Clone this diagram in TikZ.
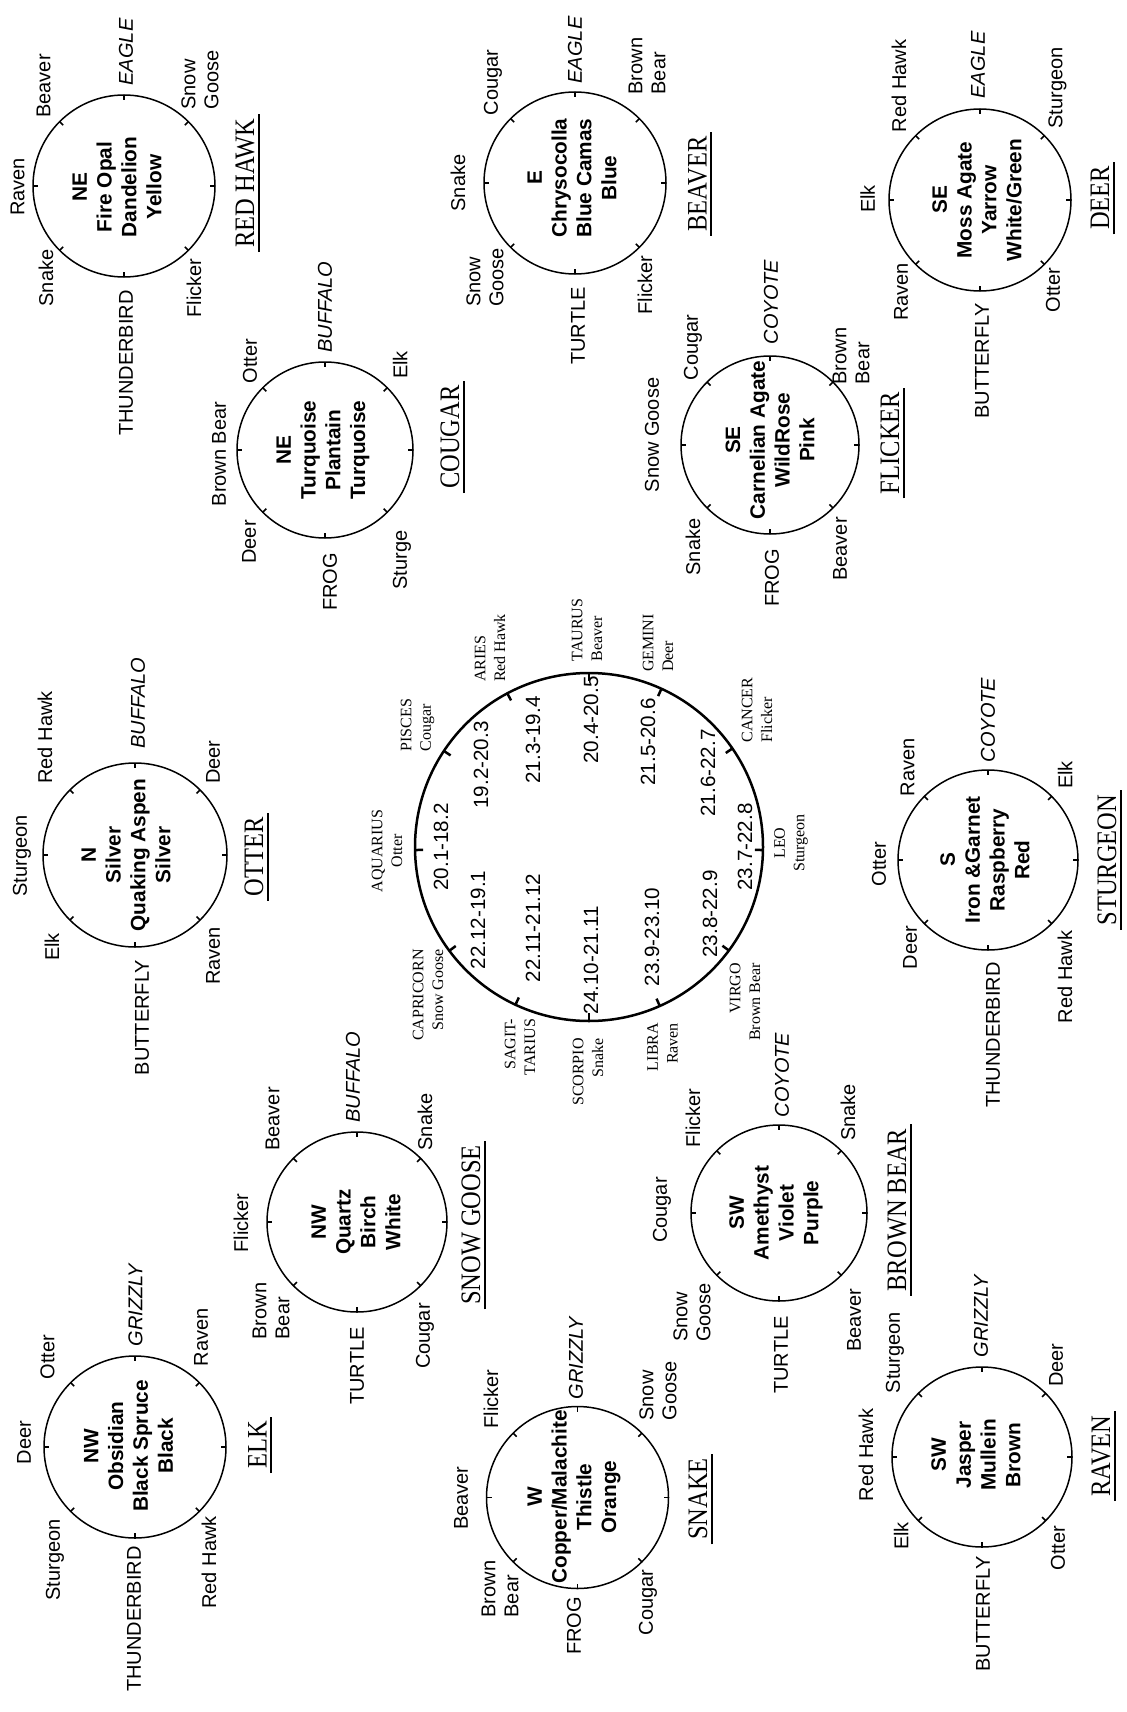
\documentclass[tikz,border=0pt]{standalone}
\usepackage{fontspec}
\usepackage{graphicx}
\setmainfont{Liberation Sans}
\newfontfamily\seriffam{Liberation Serif}
\newcommand{\labfont}{\fontsize{10}{11.5}\selectfont}
\newcommand{\cenfont}{\fontsize{10.4}{12.4}\selectfont\bfseries}
\newcommand{\ttlfont}{\seriffam\fontsize{12.25}{14}\selectfont}
\newcommand{\zodfont}{\seriffam\fontsize{8}{9.8}\selectfont}
\newcommand{\datfont}{\fontsize{10.3}{12}\selectfont}
\newcommand{\TT}[1]{\scalebox{1}[1.15]{#1}}
\tikzset{
  lab/.style={rotate=90, inner sep=0pt, font=\labfont},
  spirit/.style={rotate=90, inner sep=0pt, font=\labfont\itshape},
  labtwo/.style={rotate=90, inner sep=0pt, font=\labfont, align=left},
  cen/.style={rotate=90, inner sep=0pt, align=center, font=\cenfont},
  ttl/.style={rotate=90, inner sep=0pt, font=\ttlfont},
  zod/.style={rotate=90, inner sep=0pt, font=\zodfont},
  dat/.style={rotate=90, inner sep=0pt, font=\datfont},
  wheel/.style={line width=0.75pt},
  zring/.style={line width=1.25pt},
  uline/.style={line width=1pt}
}
\newcommand{\wheeldraw}[3]{%
  \draw[wheel] (#1) circle[radius=#2];
  \foreach \a in {0,45,...,315}{\draw[wheel] ([shift={(\a:#2)}]#1) -- ([shift={(\a:#3)}]#1);}
}
\newcommand{\ulinedraw}[1]{\draw[uline] ([shift={(2pt,-2pt)}]#1.south west) -- ([shift={(2pt,2pt)}]#1.south east);}
\begin{document}
\begin{tikzpicture}[x=0.5pt, y=-0.5pt]
\useasboundingbox (0,0) rectangle (1127,1712);
\fill[white] (0,0) rectangle (1127,1712);

% ---------- A: NE Fire Opal / RED HAWK
\coordinate (A) at (124,186);
\wheeldraw{A}{91}{86}
\node[cen] (Ac) at (117,187) {NE\\Fire Opal\\Dandelion\\Yellow};
\node[lab] (At) at (17.5,187) {Raven};
\node[lab] (Atr) at (43.7,86) {Beaver};
\node[spirit] (Ar) at (126,52) {EAGLE};
\node[labtwo] (Abr) at (200,80) {Snow\\Goose};
\node[lab] (Abl) at (194,288) {Flicker};
\node[lab] (Al) at (126,363) {THUNDERBIRD};
\node[lab] (Atl) at (46,278) {Snake};
\node[ttl] (Att) at (245,183) {\TT{RED HAWK}};
\ulinedraw{Att}

% ---------- B: NE Turquoise / COUGAR
\coordinate (B) at (325,450);
\wheeldraw{B}{88}{83}
\node[cen] (Bc) at (323,450) {NE\\Turquoise\\Plantain\\Turquoise};
\node[lab] (Bt) at (219,454) {Brown Bear};
\node[lab] (Btr) at (250,361) {Otter};
\node[spirit] (Br) at (325,307) {BUFFALO};
\node[lab] (Bbr) at (400,365) {Elk};
\node[lab] (Bbl) at (402,560) {Sturge};
\node[lab] (Bl) at (330,582) {FROG};
\node[lab] (Btl) at (249,542) {Deer};
\node[ttl] (Btt) at (450,437) {\TT{COUGAR}};
\ulinedraw{Btt}

% ---------- C: E Chrysocolla / BEAVER
\coordinate (C) at (575,183);
\wheeldraw{C}{91}{86}
\node[cen] (Cc) at (572,178) {E\\Chrysocolla\\Blue Camas\\Blue};
\node[lab] (Ct) at (458,183) {Snake};
\node[lab] (Ctr) at (493,82.5) {Cougar};
\node[spirit] (Cr) at (575,50) {EAGLE};
\node[labtwo] (Cbr) at (647,66) {Brown\\Bear};
\node[lab] (Cbl) at (645,285) {Flicker};
\node[lab] (Cl) at (578,326) {TURTLE};
\node[labtwo] (Ctl) at (485,277.5) {Snow\\Goose};
\node[ttl] (Ctt) at (697.5,184) {\TT{BEAVER}};
\ulinedraw{Ctt}

% ---------- D: SE Carnelian / FLICKER
\coordinate (D) at (770,445);
\wheeldraw{D}{89}{84}
\node[cen] (Dc) at (770,440) {SE\\Carnelian Agate\\WildRose\\Pink};
\node[lab] (Dt) at (652,435) {Snow Goose};
\node[lab] (Dtr) at (693,347.5) {Cougar};
\node[spirit] (Dr) at (771,302) {COYOTE};
\node[labtwo] (Dbr) at (851,356) {Brown\\Bear};
\node[lab] (Dbl) at (840,549) {Beaver};
\node[lab] (Dl) at (772,578) {FROG};
\node[lab] (Dtl) at (693,547) {Snake};
\node[ttl] (Dtt) at (890,443) {\TT{FLICKER}};
\ulinedraw{Dtt}

% ---------- E: SE Moss Agate / DEER
\coordinate (E) at (980,200);
\wheeldraw{E}{91}{86}
\node[cen] (Ec) at (977,200) {SE\\Moss Agate\\Yarrow\\White/Green};
\node[lab] (Et) at (867.5,199) {Elk};
\node[lab] (Etr) at (899,86) {Red Hawk};
\node[spirit] (Er) at (978,65) {EAGLE};
\node[lab] (Ebr) at (1057.5,88) {Sturgeon};
\node[lab] (Ebl) at (1053,290) {Otter};
\node[lab] (El) at (982,361) {BUTTERFLY};
\node[lab] (Etl) at (901,292) {Raven};
\node[ttl] (Ett) at (1100,198) {\TT{DEER}};
\ulinedraw{Ett}

% ---------- N: N Silver / OTTER
\coordinate (N) at (135,855);
\wheeldraw{N}{92}{87}
\node[cen] (Nc) at (126,855) {N\\Silver\\Quaking Aspen\\Silver};
\node[lab] (Nt) at (22,856) {Sturgeon};
\node[lab] (Ntr) at (45,737.5) {Red Hawk};
\node[spirit] (Nr) at (138,703) {BUFFALO};
\node[lab] (Nbr) at (213,762) {Deer};
\node[lab] (Nbl) at (213,956) {Raven};
\node[lab] (Nl) at (142,1017.5) {BUTTERFLY};
\node[lab] (Ntl) at (52,947) {Elk};
\node[ttl] (Ntt) at (254,857) {\TT{OTTER}};
\ulinedraw{Ntt}

% ---------- S: S Iron & Garnet / STURGEON
\coordinate (S) at (988,860);
\wheeldraw{S}{90}{85}
\node[cen] (Sc) at (985,860) {S\\Iron \&Garnet\\Raspberry\\Red};
\node[lab] (St) at (879,864) {Otter};
\node[lab] (Str) at (907.5,767.5) {Raven};
\node[spirit] (Sr) at (988,720) {COYOTE};
\node[lab] (Sbr) at (1065,775) {Elk};
\node[lab] (Sbl) at (1065,977) {Red Hawk};
\node[lab] (Sl) at (993,1035) {THUNDERBIRD};
\node[lab] (Stl) at (910,947.5) {Deer};
\node[ttl] (Stt) at (1107,860) {\TT{STURGEON}};
\ulinedraw{Stt}

% ---------- Q: NW Quartz / SNOW GOOSE
\coordinate (Q) at (357,1222);
\wheeldraw{Q}{90}{85}
\node[cen] (Qc) at (356,1222) {NW\\Quartz\\Birch\\White};
\node[lab] (Qt) at (241,1223) {Flicker};
\node[lab] (Qtr) at (272.5,1119) {Beaver};
\node[spirit] (Qr) at (353,1077) {BUFFALO};
\node[lab] (Qbr) at (425,1122) {Snake};
\node[lab] (Qbl) at (425,1336) {Cougar};
\node[lab] (Ql) at (357,1366) {TURTLE};
\node[labtwo] (Qtl) at (271,1311) {Brown\\Bear};
\node[ttl] (Qtt) at (471,1225) {\TT{SNOW GOOSE}};
\ulinedraw{Qtt}

% ---------- M: SW Amethyst / BROWN BEAR
\coordinate (M) at (779,1213);
\wheeldraw{M}{88}{83}
\node[cen] (Mc) at (776,1213) {SW\\Amethyst\\Violet\\Purple};
\node[lab] (Mt) at (662,1210) {Cougar};
\node[lab] (Mtr) at (693,1118) {Flicker};
\node[spirit] (Mr) at (782,1075) {COYOTE};
\node[lab] (Mbr) at (848,1112.5) {Snake};
\node[lab] (Mbl) at (854,1320) {Beaver};
\node[lab] (Ml) at (781,1355) {TURTLE};
\node[labtwo] (Mtl) at (692,1312.5) {Snow\\Goose};
\node[ttl] (Mtt) at (897,1210) {\TT{BROWN BEAR}};
\ulinedraw{Mtt}

% ---------- O: NW Obsidian / ELK
\coordinate (O) at (135,1447);
\wheeldraw{O}{91}{86}
\node[cen] (Oc) at (128.5,1446) {NW\\Obsidian\\Black Spruce\\Black};
\node[lab] (Ot) at (24,1442.5) {Deer};
\node[lab] (Otr) at (47.5,1357) {Otter};
\node[spirit] (Or) at (135.5,1305) {GRIZZLY};
\node[lab] (Obr) at (201,1337.5) {Raven};
\node[lab] (Obl) at (209,1562.5) {Red Hawk};
\node[lab] (Ol) at (134,1619) {THUNDERBIRD};
\node[lab] (Otl) at (55,1560) {Sturgeon};
\node[ttl] (Ott) at (257.5,1445) {\TT{ELK}};
\ulinedraw{Ott}

% ---------- W: W Copper/Malachite / SNAKE
\coordinate (W) at (577.5,1497.5);
\wheeldraw{W}{91}{86}
\node[cen] (Wc) at (574,1497) {W\\Copper/Malachite\\Thistle\\Orange};
\node[lab] (Wt) at (461,1498) {Beaver};
\node[lab] (Wtr) at (491,1399) {Flicker};
\node[spirit] (Wr) at (576,1358) {GRIZZLY};
\node[labtwo] (Wbr) at (658,1391) {Snow\\Goose};
\node[lab] (Wbl) at (648,1602.5) {Cougar};
\node[lab] (Wl) at (574,1626) {FROG};
\node[labtwo] (Wtl) at (500,1589) {Brown\\Bear};
\node[ttl] (Wtt) at (698,1499) {\TT{SNAKE}};
\ulinedraw{Wtt}

% ---------- J: SW Jasper / RAVEN
\coordinate (J) at (982,1457);
\wheeldraw{J}{90}{85}
\node[cen] (Jc) at (976,1455) {SW\\Jasper\\Mullein\\Brown};
\node[lab] (Jt) at (866,1455) {Red Hawk};
\node[lab] (Jtr) at (895,1352.5) {Sturgeon};
\node[spirit] (Jr) at (981,1316) {GRIZZLY};
\node[lab] (Jbr) at (1056,1365) {Deer};
\node[lab] (Jbl) at (1058,1548) {Otter};
\node[lab] (Jl) at (983,1614) {BUTTERFLY};
\node[lab] (Jtl) at (901,1536) {Elk};
\node[ttl] (Jtt) at (1101,1456) {\TT{RAVEN}};
\ulinedraw{Jtt}

% ---------- Z: zodiac wheel
\coordinate (Z) at (589,847);
\draw[zring] (Z) circle[radius=174];
\foreach \a in {270,242,213.5,179,143.4,115,90,66,36.5,1,-34.5,-65.4}{\draw[zring] ([shift={(\a:174)}]Z) -- ([shift={(\a:166)}]Z);}
\node[dat] (d1) at (481,765) {19.2-20.3};
\node[dat] (d2) at (533,740) {21.3-19.4};
\node[dat] (d3) at (591,720) {20.4-20.5};
\node[dat] (d4) at (648,742) {21.5-20.6};
\node[dat] (d5) at (708,773) {21.6-22.7};
\node[dat] (d6) at (745,847) {23.7-22.8};
\node[dat] (d7) at (441,847) {20.1-18.2};
\node[dat] (d8) at (478,920) {22.12-19.1};
\node[dat] (d9) at (533,928) {22.11-21.12};
\node[dat] (d10) at (591,960) {24.10-21.11};
\node[dat] (d11) at (652,937) {23.9-23.10};
\node[dat] (d12) at (710,914) {23.8-22.9};
\node[zod, align=left] (zTau) at (587,630) {TAURUS\\Beaver};
\node[zod, align=left] (zAri) at (490,648) {ARIES\\Red Hawk};
\node[zod, align=left] (zPis) at (417.5,725) {PISCES\\Cougar};
\node[zod, align=center] (zAqu) at (387,851) {AQUARIUS\\Otter};
\node[zod, align=right] (zCap) at (428,995) {CAPRICORN\\Snow Goose};
\node[zod, align=right] (zSag) at (520,1047) {SAGIT-\\TARIUS};
\node[zod, align=right] (zSco) at (588,1072) {SCORPIO\\Snake};
\node[zod, align=right] (zLib) at (662.5,1047) {LIBRA\\Raven};
\node[zod, align=right] (zVir) at (745,1002) {VIRGO\\Brown Bear};
\node[zod, align=center] (zLeo) at (791,843) {LEO\\Sturgeon};
\node[zod, align=left] (zCan) at (757,710) {CANCER\\Flicker};
\node[zod, align=left] (zGem) at (658,643) {GEMINI\\Deer};
\end{tikzpicture}
\end{document}
